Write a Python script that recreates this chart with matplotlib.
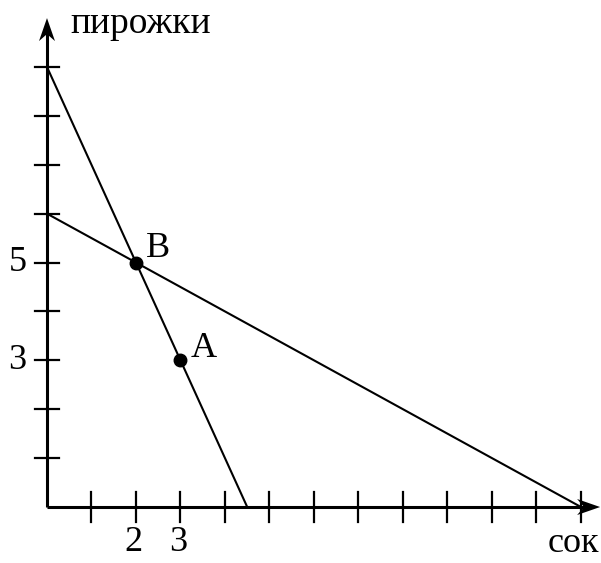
import matplotlib.pyplot as plt
from matplotlib.patches import Polygon

plt.rcParams['font.family'] = ['Liberation Serif', 'DejaVu Serif']

# budget lines (сок, пирожки)
line1_x = [0, 4.5]
line1_y = [9, 0]
line2_x = [0, 12]
line2_y = [6, 0]

points = ["B", "A"]
points_x = [2, 3]
points_y = [5, 3]

x_ticks = list(range(1, 13))
y_ticks = list(range(1, 10))
x_labels = {2: "2", 3: "3"}
y_labels = {5: "5", 3: "3"}

x_end = 12.43
y_end = 10.0

fig = plt.figure(figsize=(6.01, 5.63), dpi=100)
ax = fig.add_axes([0, 0, 1, 1])
ax.set_xlim(-1.056, 12.45)
ax.set_ylim(-1.145, 10.37)
ax.axis("off")

# axes
ax.plot([0, x_end - 0.3], [0, 0], color="black", lw=2.2, solid_capstyle="butt")
ax.plot([0, 0], [0, y_end - 0.3], color="black", lw=2.2, solid_capstyle="butt")

# stealth arrowheads (px: length 23, half width 8, notch 7)
ux, uy = 44.5, 48.9
L, W, N = 23, 8, 7
ax.add_patch(Polygon([(x_end, 0), (x_end - L / ux, W / uy), (x_end - (L - N) / ux, 0),
                      (x_end - L / ux, -W / uy)], closed=True, color="black", lw=0))
ax.add_patch(Polygon([(0, y_end), (-W / ux, y_end - L / uy), (0, y_end - (L - N) / uy),
                      (W / ux, y_end - L / uy)], closed=True, color="black", lw=0))

tx = 0.3
ty = 0.27
for t in x_ticks:
    ax.plot([t, t], [-tx, tx], color="black", lw=1.6)
for t in y_ticks:
    ax.plot([-ty, ty], [t, t], color="black", lw=1.6)

ax.plot(line1_x, line1_y, color="black", lw=1.5)
ax.plot(line2_x, line2_y, color="black", lw=1.5)
ax.plot(points_x, points_y, "o", color="black", markersize=9)

ax.text(points_x[0] + 0.22, points_y[0] + 0.28, points[0], fontsize=26, ha="left", va="center")
ax.text(points_x[1] + 0.22, points_y[1] + 0.25, points[1], fontsize=26, ha="left", va="center")

for t, s in x_labels.items():
    ax.text(t - 0.05, -0.72, s, fontsize=26, ha="center", va="center")
for t, s in y_labels.items():
    ax.text(-0.46, t, s, fontsize=26, ha="right", va="center")

ax.text(0.52, 9.69, "пирожки", fontsize=27, ha="left", va="baseline")
ax.text(12.4, -0.4, "сок", fontsize=26, ha="right", va="top")

fig.savefig("out.png", dpi=100)
